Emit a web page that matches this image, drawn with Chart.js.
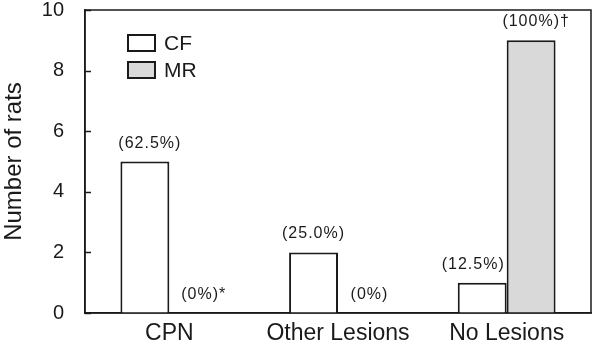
<!DOCTYPE html>
<html>
<head>
<meta charset="utf-8">
<script src="https://cdn.jsdelivr.net/npm/chart.js@4/dist/chart.umd.min.js"></script>
<style>
  html, body { margin: 0; padding: 0; background: #fff; }
  #wrap { width: 597px; height: 346px; }
</style>
</head>
<body>
<div id="wrap"><canvas id="c" width="597" height="346"></canvas></div>
<script>
const categories = ['CPN', 'Other Lesions', 'No Lesions'];
const cfValues = [5, 2, 1];
const mrValues = [0, 0, 9];
const cfLabels = ['(62.5%)', '(25.0%)', '(12.5%)'];
const mrLabels = ['(0%)*', '(0%)', '(100%)\u2020'];
const yTicks = [0, 2, 4, 6, 8, 10];

const ink = '#1a1a1a';
const font = 'Arial, "Liberation Sans", sans-serif';

// box around the plot + inward tick marks on the y axis
const frame = {
    id: 'frame',
    afterDraw(chart) {
        const ctx = chart.ctx, a = chart.chartArea, y = chart.scales.y;
        ctx.save();
        ctx.strokeStyle = ink;
        ctx.lineWidth = 1.5;
        ctx.strokeRect(a.left, a.top, a.right - a.left, a.bottom - a.top);
        for (const v of yTicks) {
            const py = Math.round(y.getPixelForValue(v)) + 0.5;
            ctx.beginPath();
            ctx.moveTo(a.left, py);
            ctx.lineTo(a.left + 6, py);
            ctx.stroke();
        }
        ctx.restore();
    }
};

// percentage labels above the bars
const barLabels = {
    id: 'barLabels',
    afterDatasetsDraw(chart, args, opts) {
        const ctx = chart.ctx;
        ctx.save();
        ctx.font = '16px ' + font;
        ctx.letterSpacing = '1px';
        ctx.fillStyle = ink;
        ctx.textAlign = 'center';
        ctx.textBaseline = 'alphabetic';
        chart.data.datasets.forEach((ds, di) => {
            chart.getDatasetMeta(di).data.forEach((bar, i) => {
                const dx = opts.nudge[di][i];
                ctx.fillText(ds.pctLabels[i], bar.x + dx, bar.y - 14);
            });
        });
        ctx.restore();
    }
};

// legend box top-left inside the plot
const innerLegend = {
    id: 'innerLegend',
    afterDraw(chart) {
        const ctx = chart.ctx, a = chart.chartArea;
        ctx.save();
        ctx.font = '21px ' + font;
        ctx.textBaseline = 'middle';
        chart.data.datasets.forEach((ds, i) => {
            const x = a.left + 43, y = a.top + 25 + i * 27;
            ctx.fillStyle = ds.backgroundColor;
            ctx.fillRect(x, y, 27, 16);
            ctx.strokeStyle = ink;
            ctx.lineWidth = 2;
            ctx.strokeRect(x, y, 27, 16);
            ctx.fillStyle = ink;
            ctx.fillText(ds.label, x + 36, y + 9);
        });
        ctx.restore();
    }
};

new Chart(document.getElementById('c'), {
    type: 'bar',
    data: {
        labels: categories,
        datasets: [
            { label: 'CF', data: cfValues, pctLabels: cfLabels, backgroundColor: '#ffffff', borderColor: ink, borderWidth: 2, borderSkipped: 'bottom' },
            { label: 'MR', data: mrValues, pctLabels: mrLabels, backgroundColor: '#d9d9d9', borderColor: ink, borderWidth: 2, borderSkipped: 'bottom' }
        ]
    },
    options: {
        responsive: false,
        animation: false,
        devicePixelRatio: 1,
        layout: { padding: { top: 0, right: 6, left: 0, bottom: 0 } },
        datasets: { bar: { categoryPercentage: 0.58, barPercentage: 1 } },
        plugins: {
            legend: { display: false },
            tooltip: { enabled: false },
            barLabels: { nudge: [[5, 0, -9], [10, 7, 5]] }
        },
        scales: {
            x: {
                grid: { display: false, drawTicks: false },
                border: { color: ink, width: 1.5 },
                ticks: { color: ink, font: { size: 23, family: font }, padding: 7 },
                afterFit(s) { s.height = 33; }
            },
            y: {
                min: 0, max: 10,
                afterBuildTicks(s) { s.ticks = yTicks.map(v => ({ value: v })); },
                grid: { display: false, drawTicks: false },
                border: { color: ink, width: 1.5 },
                ticks: { color: ink, font: { size: 20, family: font }, padding: 21 },
                title: { display: true, text: 'Number of rats', color: ink, font: { size: 24, family: font }, padding: 0 },
                afterFit(s) { s.width = 85; s.paddingTop = 10; s.paddingBottom = 0; }
            }
        }
    },
    plugins: [frame, barLabels, innerLegend]
});
</script>
</body>
</html>
